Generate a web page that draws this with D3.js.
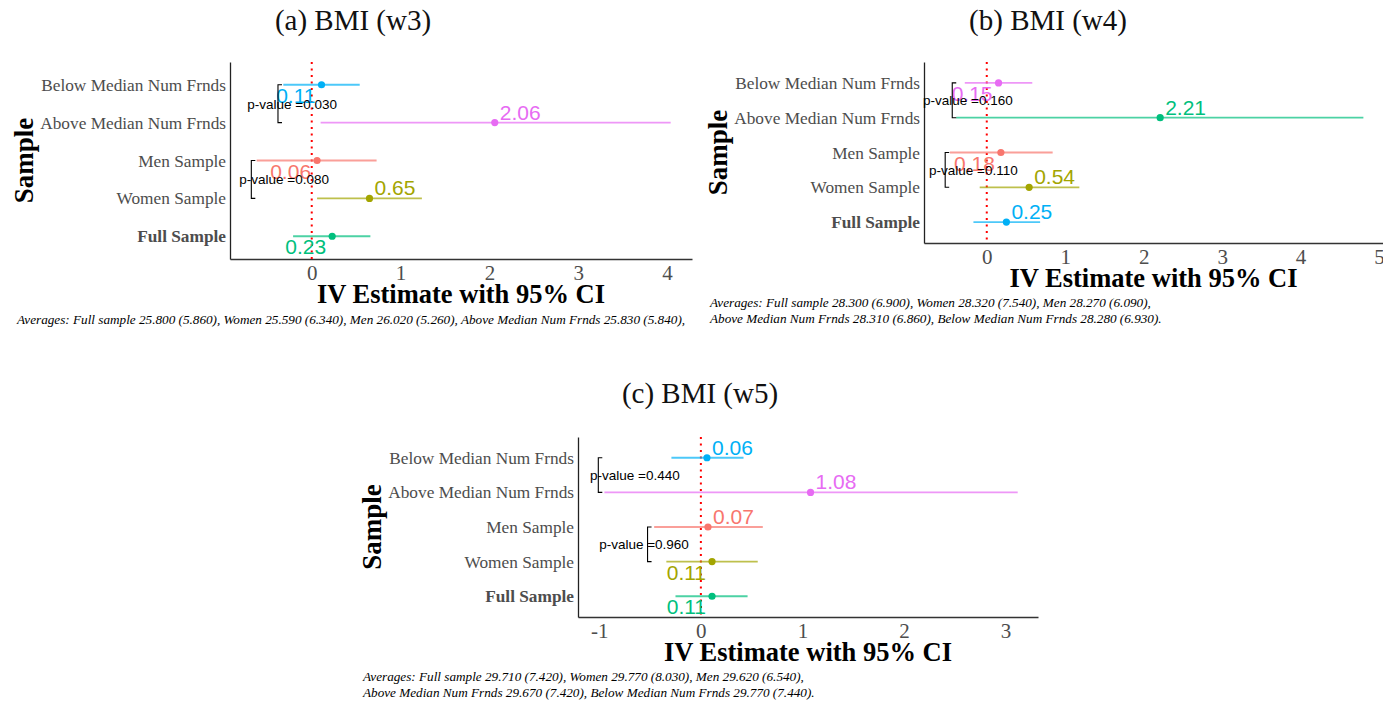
<!DOCTYPE html>
<html>
<head>
<meta charset="utf-8">
<script src="https://cdn.jsdelivr.net/npm/d3@7"></script>
<style>
  body { margin: 0; background: #fff; }
  svg { display: block; }
</style>
</head>
<body>
<div id="chart"></div>
<script>
// categories, bottom to top
var categories = ["Full Sample", "Women Sample", "Men Sample", "Above Median Num Frnds", "Below Median Num Frnds"];

// IV estimates and 95% CI, same order as categories
var estW3 = [0.23, 0.65, 0.06, 2.06, 0.11];
var lowW3 = [-0.21, 0.06, -0.62, 0.10, -0.32];
var highW3 = [0.66, 1.24, 0.73, 4.04, 0.54];

var estW4 = [0.25, 0.54, 0.18, 2.21, 0.15];
var lowW4 = [-0.17, -0.09, -0.47, -0.39, -0.28];
var highW4 = [0.68, 1.18, 0.84, 4.80, 0.58];

var estW5 = [0.11, 0.11, 0.07, 1.08, 0.06];
var lowW5 = [-0.25, -0.34, -0.46, -0.95, -0.29];
var highW5 = [0.46, 0.56, 0.61, 3.12, 0.42];

// p-values for the gender pair and the friends pair
var pvalW3 = [0.080, 0.030];
var pvalW4 = [0.110, 0.160];
var pvalW5 = [0.960, 0.440];

// x tick values
var ticksW3 = [0, 1, 2, 3, 4];
var ticksW4 = [0, 1, 2, 3, 4, 5];
var ticksW5 = [-1, 0, 1, 2, 3];

var titles = ["(a) BMI (w3)", "(b) BMI (w4)", "(c) BMI (w5)"];

var notesW3 = ["Averages: Full sample 25.800 (5.860), Women 25.590 (6.340), Men 26.020 (5.260), Above Median Num Frnds 25.830 (5.840),"];
var notesW4 = ["Averages: Full sample 28.300 (6.900), Women 28.320 (7.540), Men 28.270 (6.090),",
               "Above Median Num Frnds 28.310 (6.860), Below Median Num Frnds 28.280 (6.930)."];
var notesW5 = ["Averages: Full sample 29.710 (7.420), Women 29.770 (8.030), Men 29.620 (6.540),",
               "Above Median Num Frnds 29.670 (7.420), Below Median Num Frnds 29.770 (7.440)."];

// ggplot hue palette
var palette = {red: "#F8766D", olive: "#A3A500", green: "#00BF7D", blue: "#00B0F6", pink: "#E76BF3"};

// layout for each panel
var panels = [
  {title: titles[0], est: estW3, low: lowW3, high: highW3, pval: pvalW3, ticks: ticksW3, notes: notesW3,
   left: 230, right: 692, top: 62, bottom: 259, xmin: -0.92, xmax: 4.28, titleX: 353, titleY: 30, noteX: 17,
   colors: ["green", "olive", "red", "pink", "blue"],
   sides: ["down", "up", "down", "up", "down"],
   brackets: [{x: -0.68, lx: -0.31}, {x: -0.38, lx: -0.22}]},
  {title: titles[1], est: estW4, low: lowW4, high: highW4, pval: pvalW4, ticks: ticksW4, notes: notesW4,
   left: 924, right: 1383, top: 62, bottom: 243, xmin: -0.80, xmax: 5.05, titleX: 1048, titleY: 30, noteX: 710,
   colors: ["blue", "olive", "red", "green", "pink"],
   sides: ["up", "up", "down", "up", "down"],
   brackets: [{x: -0.53, lx: -0.17}, {x: -0.44, lx: -0.24}]},
  {title: titles[2], est: estW5, low: lowW5, high: highW5, pval: pvalW5, ticks: ticksW5, notes: notesW5,
   left: 578, right: 1038, top: 437, bottom: 617, xmin: -1.21, xmax: 3.32, titleX: 700, titleY: 403, noteX: 363,
   colors: ["green", "olive", "red", "pink", "blue"],
   sides: ["down", "down", "up", "up", "up"],
   brackets: [{x: -0.525, lx: -0.56}, {x: -1.01, lx: -0.65}]}
];

var svg = d3.select("#chart")
  .append("svg")
  .attr("width", 1383)
  .attr("height", 702);

var serif = "'Liberation Serif', 'Times New Roman', serif";
var sans = "'Liberation Sans', Arial, sans-serif";
var fmt2 = d3.format(".2f");
var fmt3 = d3.format(".3f");

panels.forEach(function(p) {
  var g = svg.append("g");

  var x = d3.scaleLinear().domain([p.xmin, p.xmax]).range([p.left, p.right]);
  var y = d3.scalePoint().domain(categories).range([p.bottom, p.top]).padding(0.6);

  var rows = categories.map(function(c, i) {
    return {cat: c, est: p.est[i], low: p.low[i], high: p.high[i], color: palette[p.colors[i]], side: p.sides[i]};
  });

  // title
  g.append("text")
    .attr("x", p.titleX)
    .attr("y", p.titleY)
    .attr("text-anchor", "middle")
    .attr("font-family", serif)
    .attr("font-size", "29px")
    .attr("fill", "#111")
    .text(p.title);

  // x axis
  var xAxis = g.append("g")
    .attr("transform", "translate(0," + p.bottom + ")")
    .call(d3.axisBottom(x).tickValues(p.ticks).tickSize(0).tickSizeOuter(0).tickPadding(6)
      .tickFormat(function(d) { return String(d); }));
  xAxis.select(".domain").attr("stroke", "#333").attr("stroke-width", 1.3);
  xAxis.selectAll("text")
    .attr("font-family", serif)
    .attr("font-size", "21px")
    .attr("fill", "#4D4D4D");

  // y axis
  var yAxis = g.append("g")
    .attr("transform", "translate(" + p.left + ",0)")
    .call(d3.axisLeft(y).tickSize(0).tickSizeOuter(0).tickPadding(4));
  yAxis.select(".domain").attr("stroke", "#222").attr("stroke-width", 1.3);
  yAxis.selectAll("text")
    .attr("font-family", serif)
    .attr("font-size", "17.3px")
    .attr("fill", "#4D4D4D")
    .attr("font-weight", function(d) { return d === "Full Sample" ? "bold" : "normal"; });

  // axis titles
  g.append("text")
    .attr("x", (p.left + p.right) / 2)
    .attr("y", p.bottom + 44)
    .attr("text-anchor", "middle")
    .attr("font-family", serif)
    .attr("font-size", "26.5px")
    .attr("font-weight", "bold")
    .attr("fill", "#000")
    .text("IV Estimate with 95% CI");

  g.append("text")
    .attr("transform", "translate(" + (p.left - 197) + "," + ((p.top + p.bottom) / 2) + ") rotate(-90)")
    .attr("text-anchor", "middle")
    .attr("font-family", serif)
    .attr("font-size", "27px")
    .attr("font-weight", "bold")
    .attr("fill", "#000")
    .text("Sample");

  // zero reference line
  g.append("line")
    .attr("x1", x(0)).attr("x2", x(0))
    .attr("y1", p.top).attr("y2", p.bottom)
    .attr("stroke", "#FF0000")
    .attr("stroke-width", 2)
    .attr("stroke-dasharray", "2,4.5");

  // confidence intervals
  g.selectAll(".ci")
    .data(rows)
    .enter()
    .append("line")
    .attr("x1", function(d) { return x(d.low); })
    .attr("x2", function(d) { return x(d.high); })
    .attr("y1", function(d) { return y(d.cat); })
    .attr("y2", function(d) { return y(d.cat); })
    .attr("stroke", function(d) { return d.color; })
    .attr("stroke-opacity", 0.7)
    .attr("stroke-width", 1.8);

  // estimates
  g.selectAll(".pt")
    .data(rows)
    .enter()
    .append("circle")
    .attr("cx", function(d) { return x(d.est); })
    .attr("cy", function(d) { return y(d.cat); })
    .attr("r", 3.6)
    .attr("fill", function(d) { return d.color; });

  // value labels
  g.selectAll(".lbl")
    .data(rows)
    .enter()
    .append("text")
    .attr("x", function(d) { return d.side === "up" ? x(d.est) + 5 : x(d.est) - 6; })
    .attr("y", function(d) { return d.side === "up" ? y(d.cat) - 3 : y(d.cat) + 18; })
    .attr("text-anchor", function(d) { return d.side === "up" ? "start" : "end"; })
    .attr("font-family", sans)
    .attr("font-size", "21px")
    .attr("fill", function(d) { return d.color; })
    .text(function(d) { return fmt2(d.est); });

  // p-value brackets: [Men, Women] and [Above, Below]
  var pairs = [["Women Sample", "Men Sample"], ["Above Median Num Frnds", "Below Median Num Frnds"]];
  pairs.forEach(function(pair, i) {
    var b = p.brackets[i];
    var y1 = y(pair[1]), y2 = y(pair[0]);
    var bx = x(b.x);
    g.append("path")
      .attr("d", "M" + (bx + 4) + "," + y1 + "H" + bx + "V" + y2 + "H" + (bx + 4))
      .attr("fill", "none")
      .attr("stroke", "#000")
      .attr("stroke-width", 1.1);
    g.append("text")
      .attr("x", x(b.lx))
      .attr("y", (y1 + y2) / 2 + 5)
      .attr("text-anchor", "middle")
      .attr("font-family", sans)
      .attr("font-size", "13.5px")
      .attr("fill", "#000")
      .text("p-value =" + fmt3(p.pval[i]));
  });

  // footnote
  g.selectAll(".note")
    .data(p.notes)
    .enter()
    .append("text")
    .attr("x", p.noteX)
    .attr("y", function(d, i) { return p.bottom + (p.notes.length > 1 ? 64 : 65) + i * 16; })
    .attr("font-family", serif)
    .attr("font-style", "italic")
    .attr("font-size", "13.2px")
    .attr("fill", "#000")
    .text(function(d) { return d; });
});
</script>
</body>
</html>
